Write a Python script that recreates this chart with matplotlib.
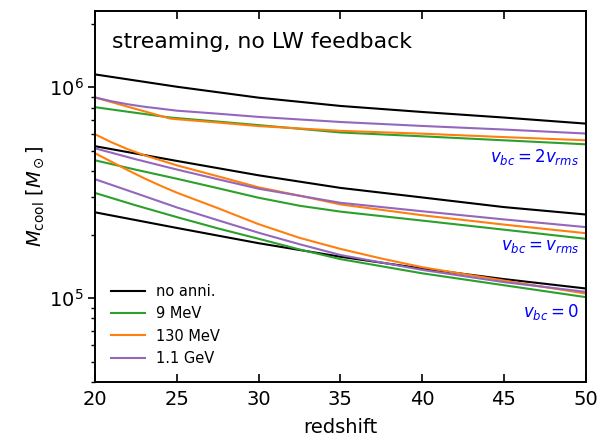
import matplotlib
matplotlib.use('Agg')
import matplotlib.pyplot as plt
import numpy as np

# redshift grids and cooling masses [M_sun]
# vbc = 2 vrms
z_bt = [20, 25, 30, 35, 40, 45, 50]
black_top = [1.15e6, 1.005e6, 8.92e5, 8.15e5, 7.63e5, 7.18e5, 6.72e5]
z_gt = [20, 22, 24.6, 27.5, 30, 35, 40, 45, 50]
green_top = [8.04e5, 7.65e5, 7.18e5, 6.87e5, 6.61e5, 6.10e5, 5.85e5, 5.60e5, 5.36e5]
z_ot = [20, 21, 22, 23, 24, 24.6, 25, 27.5, 30, 35, 40, 45, 50]
orange_top = [8.94e5, 8.50e5, 8.08e5, 7.69e5, 7.31e5, 7.10e5, 7.05e5, 6.80e5,
              6.54e5, 6.21e5, 6.02e5, 5.80e5, 5.60e5]
z_pt = [20, 21, 22, 23, 24, 25, 27.5, 30, 35, 40, 45, 50]
purple_top = [8.94e5, 8.58e5, 8.30e5, 8.08e5, 7.91e5, 7.74e5, 7.49e5, 7.23e5,
              6.84e5, 6.55e5, 6.30e5, 6.03e5]

# vbc = vrms
z_bm = [20, 25, 30, 35, 40, 45, 50]
black_mid = [5.25e5, 4.47e5, 3.82e5, 3.33e5, 3.00e5, 2.70e5, 2.49e5]
z_gm = [20, 22.5, 25, 27.5, 30, 32.5, 35, 40, 45, 50]
green_mid = [4.50e5, 4.06e5, 3.68e5, 3.32e5, 2.99e5, 2.74e5, 2.57e5, 2.33e5, 2.11e5, 1.91e5]
z_om = [20, 21, 22, 23, 25, 27.5, 30, 32.5, 35, 40, 45, 50]
orange_mid = [5.98e5, 5.48e5, 5.08e5, 4.76e5, 4.26e5, 3.78e5, 3.35e5, 3.06e5,
              2.78e5, 2.47e5, 2.23e5, 2.03e5]
z_pm = [20, 22.5, 25, 27.5, 30, 35, 40, 45, 50]
purple_mid = [5.13e5, 4.55e5, 4.07e5, 3.66e5, 3.30e5, 2.83e5, 2.58e5, 2.36e5, 2.17e5]

# vbc = 0
z_bl = [20, 25, 30, 35, 40, 45, 50]
black_low = [2.55e5, 2.15e5, 1.82e5, 1.57e5, 1.38e5, 1.23e5, 1.11e5]
z_gl = [20, 22.5, 25, 27.5, 30, 32.5, 35, 40, 45, 50]
green_low = [3.15e5, 2.75e5, 2.42e5, 2.14e5, 1.91e5, 1.70e5, 1.53e5, 1.31e5, 1.15e5, 1.01e5]
z_ol = [20, 21, 22, 23, 24, 25, 27.5, 30, 32.5, 35, 37.5, 40, 45, 50]
orange_low = [4.86e5, 4.43e5, 4.04e5, 3.70e5, 3.41e5, 3.16e5, 2.67e5, 2.24e5,
              1.93e5, 1.71e5, 1.54e5, 1.40e5, 1.21e5, 1.05e5]
z_pl = [20, 22.5, 25, 27.5, 30, 32.5, 35, 40, 45, 50]
purple_low = [3.66e5, 3.14e5, 2.69e5, 2.34e5, 2.04e5, 1.80e5, 1.60e5, 1.36e5, 1.19e5, 1.07e5]

labels = ['no anni.', '9 MeV', '130 MeV', '1.1 GeV']
colors = ['black', 'tab:green', 'tab:orange', 'tab:purple']

groups = [
    [(z_bt, black_top), (z_gt, green_top), (z_ot, orange_top), (z_pt, purple_top)],
    [(z_bm, black_mid), (z_gm, green_mid), (z_om, orange_mid), (z_pm, purple_mid)],
    [(z_bl, black_low), (z_gl, green_low), (z_ol, orange_low), (z_pl, purple_low)],
]

fig = plt.figure(figsize=(6.02, 4.38), dpi=100)
ax = fig.add_axes([0.158, 0.128, 0.815, 0.847])

for g, group in enumerate(groups):
    for (z, m), c, lab in zip(group, colors, labels):
        ax.plot(z, m, color=c, lw=1.5, label=lab if g == 0 else None)

ax.set_yscale('log')
ax.set_xlim(20, 50)
ax.set_ylim(4e4, 2.3e6)
ax.set_xticks([20, 25, 30, 35, 40, 45, 50])

for s in ax.spines.values():
    s.set_linewidth(1.4)

ax.tick_params(axis='x', which='major', direction='in', top=True, length=6,
               width=1.2, labelsize=14, pad=6)
ax.tick_params(axis='y', which='major', direction='out', right=False, length=5,
               width=1.2, labelsize=14)
ax.tick_params(axis='y', which='minor', direction='out', right=False, length=3,
               width=1.0)

ax.set_xlabel('redshift', fontsize=14, labelpad=6)
ax.set_ylabel(r'$M_{\rm cool}\ [M_\odot]$', fontsize=14, labelpad=2)

ax.text(0.035, 0.915, 'streaming, no LW feedback', transform=ax.transAxes,
        fontsize=15.8, va='center', ha='left')

ax.text(49.6, 4.65e5, r'$v_{bc}=2v_{rms}$', color='blue', fontsize=12,
        ha='right', va='center')
ax.text(49.6, 1.76e5, r'$v_{bc}=v_{rms}$', color='blue', fontsize=12,
        ha='right', va='center')
ax.text(49.6, 8.55e4, r'$v_{bc}=0$', color='blue', fontsize=12,
        ha='right', va='center')

ax.legend(loc='lower left', frameon=False, fontsize=10.5, handlelength=2.3,
          handletextpad=0.8, labelspacing=0.5, borderaxespad=0.7)

fig.savefig('out.png', dpi=100)
